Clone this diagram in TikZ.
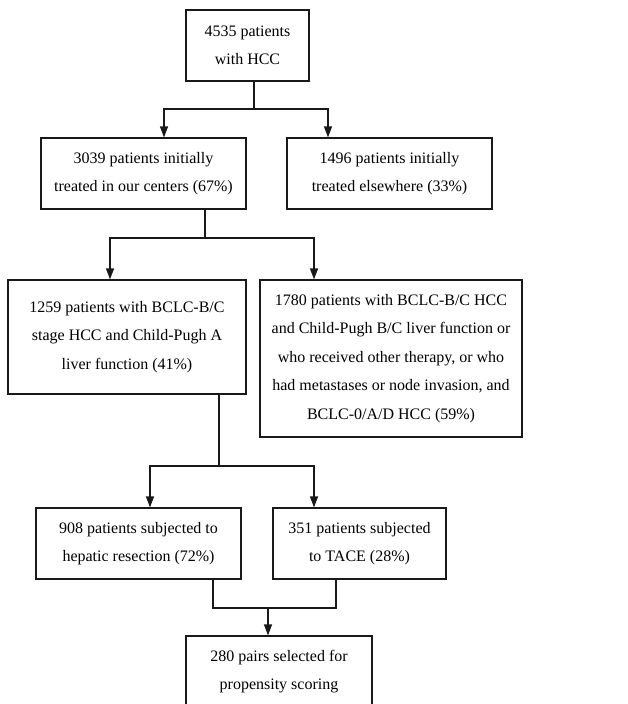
\documentclass[tikz,border=0pt]{standalone}
\usepackage{fontspec}
\setmainfont{Liberation Serif}
\usetikzlibrary{positioning,arrows.meta}
\tikzset{
  flowbox/.style={draw=black!90, line width=1.2pt, align=center, inner sep=3pt,
    font=\fontsize{16}{28.5}\selectfont},
  flowline/.style={draw=black!90, line width=1.2pt},
  flowarrow/.style={flowline, -{Triangle[length=11pt, width=8pt]}},
}
\begin{document}
\begin{tikzpicture}[x=1pt, y=-1pt]
  \useasboundingbox (0,0) rectangle (628,704);
  % cohort
  \node[flowbox, minimum width=123pt, minimum height=71pt] (all) at (247.5,45.5) {4535 patients\\with HCC};
  \node[flowbox, minimum width=205pt, minimum height=71pt] (ours) at (143.5,173.5)
    {3039 patients initially\\treated in our centers (67\%)};
  \node[flowbox, minimum width=205pt, minimum height=71pt] (elsewhere) at (389.5,173.5)
    {1496 patients initially\\treated elsewhere (33\%)};
  % selection
  \node[flowbox, minimum width=238pt, minimum height=114pt] (bclc) at (127,337)
    {1259 patients with BCLC-B/C\\stage HCC and Child-Pugh A\\liver function (41\%)};
  \node[flowbox, minimum width=262pt, minimum height=157pt] (other) at (391,358.5)
    {1780 patients with BCLC-B/C HCC\\and Child-Pugh B/C liver function or\\who received other therapy, or who\\had metastases or node invasion, and\\BCLC-0/A/D HCC (59\%)};
  % treatment
  \node[flowbox, minimum width=205pt, minimum height=71pt] (resect) at (138.5,543.5)
    {908 patients subjected to\\hepatic resection (72\%)};
  \node[flowbox, minimum width=173pt, minimum height=71pt] (tace) at (359.5,543.5)
    {351 patients subjected\\to TACE (28\%)};
  \node[flowbox, minimum width=186pt, minimum height=71pt] (pairs) at (279,671.5)
    {280 pairs selected for\\propensity scoring};
  % connectors
  \coordinate (j1) at (254,109);
  \draw[flowline] (all.south -| j1) -- (j1);
  \draw[flowarrow] (j1) -| ([xshift=20.5pt]ours.north);
  \draw[flowarrow] (j1) -| ([xshift=-61.5pt]elsewhere.north);
  \coordinate (j2) at (205,238);
  \draw[flowline] (ours.south -| j2) -- (j2);
  \draw[flowarrow] (j2) -| ([xshift=-17pt]bclc.north);
  \draw[flowarrow] (j2) -| ([xshift=-77pt]other.north);
  \coordinate (j3) at (219,466);
  \draw[flowline] (bclc.south -| j3) -- (j3);
  \draw[flowarrow] (j3) -| ([xshift=11.5pt]resect.north);
  \draw[flowarrow] (j3) -| ([xshift=-45.5pt]tace.north);
  \coordinate (j4) at (268,608);
  \draw[flowline] ([xshift=74.5pt]resect.south) |- (j4) -| ([xshift=-23.5pt]tace.south);
  \draw[flowarrow] (j4) -- (pairs.north -| j4);
\end{tikzpicture}
\end{document}
